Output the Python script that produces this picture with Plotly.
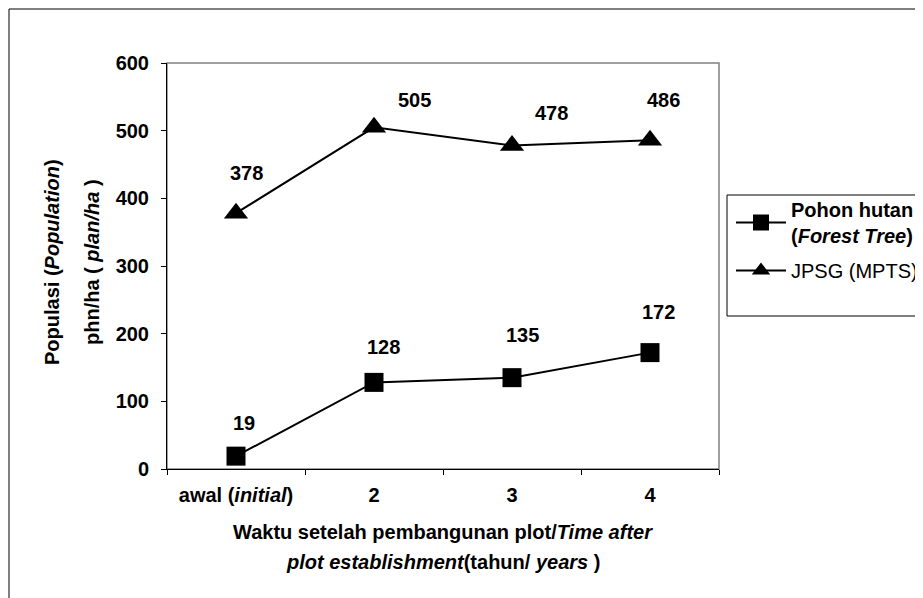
import plotly.graph_objects as go

# ---- data ----
categories = ["awal (initial)", "2", "3", "4"]
tick_text = ["<b>awal (<i>initial</i>)</b>", "<b>2</b>", "<b>3</b>", "<b>4</b>"]
forest_tree = [19, 128, 135, 172]
jpsg_mpts = [378, 505, 478, 486]
series_names = ["<b>Pohon hutan</b><br><b>(<i>Forest Tree</i>)</b>", "JPSG (MPTS)"]

# ---- label placement (pixel offsets from point) ----
forest_offsets = [(8, 33), (9, 35), (10, 43), (8, 41)]
jpsg_offsets = [(10, 40), (40, 27), (39, 33), (13, 40)]

SCREEN_W, SCREEN_H = 923, 598
OFF = 8  # page body margin
W, H = SCREEN_W - OFF, SCREEN_H - OFF
SX0, SX1, SY0, SY1 = 167, 719, 63, 469  # plot area in screen pixels
L, R = SX0 - OFF, W - (SX1 - OFF)
T, B = SY0 - OFF, H - (SY1 - OFF)
PW, PH = SX1 - SX0, SY1 - SY0
FONT = "Liberation Sans, Arial, sans-serif"
FS = 20

def px_x(p):
    return (p - SX0) / PW

def px_y(p):
    return (SY1 - p) / PH

fig = go.Figure()
fig.add_trace(go.Scatter(
    x=categories, y=forest_tree, name=series_names[0], mode="lines+markers",
    line=dict(color="black", width=2), legendgroup="a",
    marker=dict(symbol="square", size=19, color="black"),
))
fig.add_trace(go.Scatter(
    x=categories, y=jpsg_mpts, name=series_names[1], mode="lines+markers",
    line=dict(color="black", width=2), legendgroup="b",
    marker=dict(symbol="triangle-up", size=21, color="black"),
))

annotations = []
for vals, offs in ((forest_tree, forest_offsets), (jpsg_mpts, jpsg_offsets)):
    for i, (v, (dx, dy)) in enumerate(zip(vals, offs)):
        annotations.append(dict(
            x=i, y=v, xref="x", yref="y", text=f"<b>{v}</b>", showarrow=False,
            xshift=dx, yshift=dy, font=dict(family=FONT, size=FS, color="black"),
        ))

# axis titles
annotations += [
    dict(x=px_x(52), y=px_y(262), xref="paper", yref="paper", textangle=-90,
         text="<b>Populasi (<i>Population</i>)</b>", showarrow=False,
         xanchor="center", yanchor="middle", font=dict(family=FONT, size=FS, color="black")),
    dict(x=px_x(92), y=px_y(262), xref="paper", yref="paper", textangle=-90,
         text="<b>phn/ha ( <i>plan/ha</i> )</b>", showarrow=False,
         xanchor="center", yanchor="middle", font=dict(family=FONT, size=FS, color="black")),
    dict(x=0.5, y=px_y(532), xref="paper", yref="paper",
         text="<b>Waktu setelah pembangunan plot/<i>Time after</i></b>", showarrow=False,
         xanchor="center", yanchor="middle", font=dict(family=FONT, size=FS, color="black")),
    dict(x=0.5, y=px_y(562), xref="paper", yref="paper",
         text="<b><i>plot establishment</i>(tahun/ <i>years</i> )</b>", showarrow=False,
         xanchor="center", yanchor="middle", font=dict(family=FONT, size=FS, color="black")),
]

# legend box drawn open on the right (it runs off the page)
lx0, lx1, ly0, ly1 = px_x(727), px_x(SCREEN_W + 50), px_y(195), px_y(316)
legend_path = f"M {lx1},{ly0} L {lx0},{ly0} L {lx0},{ly1} L {lx1},{ly1}"

shapes = [
    # outer frame (top and left visible)
    dict(type="path", xref="paper", yref="paper",
         path=f"M {px_x(SCREEN_W + 50)},{px_y(9)} L {px_x(9)},{px_y(9)} L {px_x(9)},{px_y(SCREEN_H + 50)}",
         line=dict(color="black", width=1), layer="below"),
    # plot area frame (gray top/right)
    dict(type="rect", xref="paper", yref="paper", x0=0, x1=1, y0=0, y1=1,
         line=dict(color="#808080", width=1.5), layer="below"),
    dict(type="path", xref="paper", yref="paper", path=legend_path,
         line=dict(color="black", width=1), layer="above"),
]

fig.update_layout(
    width=W, height=H,
    margin=dict(l=L, r=R, t=T, b=B, autoexpand=False),
    paper_bgcolor="white", plot_bgcolor="white",
    font=dict(family=FONT, size=FS, color="black"),
    showlegend=True,
    legend=dict(x=px_x(731), y=px_y(190), xanchor="left", yanchor="top",
                borderwidth=0, bgcolor="rgba(0,0,0,0)",
                font=dict(family=FONT, size=FS, color="black"),
                traceorder="grouped", tracegroupgap=6, itemwidth=50),
    annotations=annotations, shapes=shapes,
)
fig.update_xaxes(
    type="category", range=[-0.5, 3.5], tickmode="array", tickvals=categories, ticktext=tick_text,
    tickson="boundaries", ticks="outside", ticklen=5, tickcolor="black",
    showline=True, linecolor="black", linewidth=1, showgrid=False, zeroline=False,
    tickfont=dict(family=FONT, size=FS, color="black"), ticklabelstandoff=8,
)
fig.update_yaxes(
    range=[0, 600], dtick=100, tick0=0, ticks="outside", ticklen=5, tickcolor="black",
    showline=True, linecolor="black", linewidth=1, showgrid=False, zeroline=False,
    tickfont=dict(family=FONT, size=FS, color="black", weight="bold"), ticklabelstandoff=8,
)

fig.write_html("out.html")
